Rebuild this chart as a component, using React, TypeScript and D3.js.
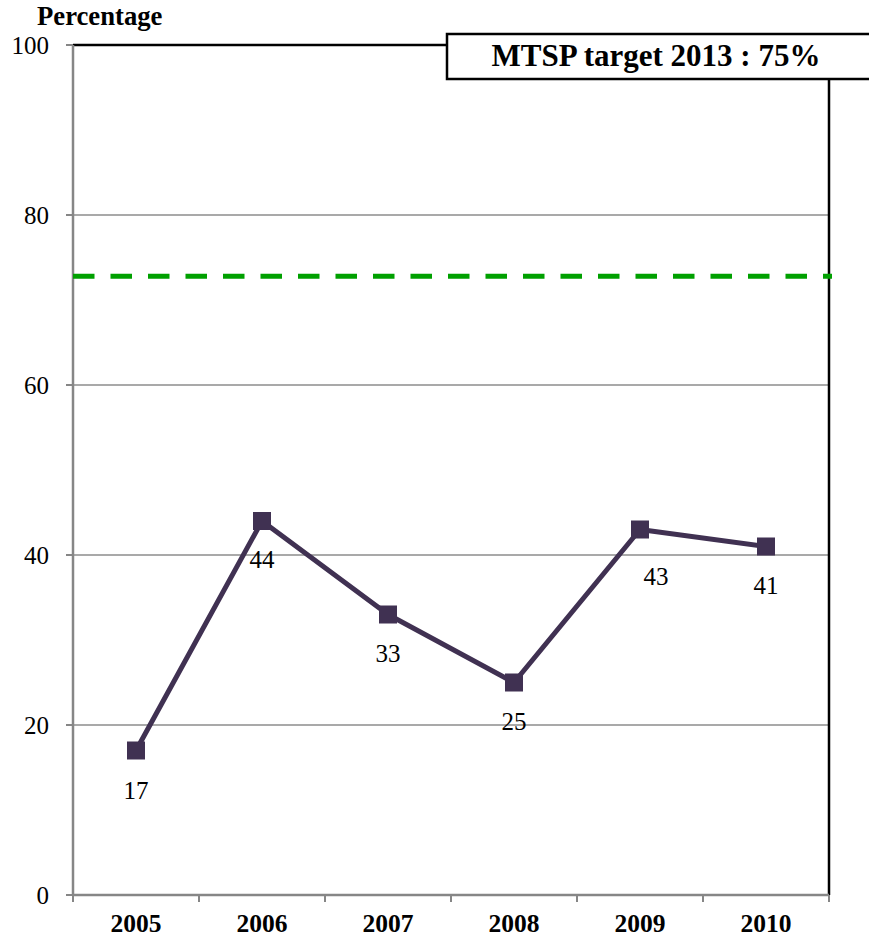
import React from "react";
import * as d3 from "d3";

const years = ["2005", "2006", "2007", "2008", "2009", "2010"];
const values = [17, 44, 33, 25, 43, 41];
const yTicks = [0, 20, 40, 60, 80, 100];
const targetValue = 72.8;
const targetLabel = "MTSP target 2013 : 75%";
const yTitle = "Percentage";
// label nudges (layout only)
const labelDx = [0, 0, 0, 0, 16, 0];
const labelDy = [48, 47, 47, 47, 55, 47];

const W = 869, H = 939;
const M = { left: 73, right: 829, top: 45, bottom: 895 };

export default function App() {
  const x = d3.scaleBand().domain(years).range([M.left, M.right]).padding(0);
  const y = d3.scaleLinear().domain([0, 100]).range([M.bottom, M.top]);
  const cx = (d: string) => (x(d) as number) + x.bandwidth() / 2;
  const line = d3.line<number>().x((_, i) => cx(years[i])).y((v) => y(v));
  const boundaries = [...years.map((d) => x(d) as number), M.right];
  const lineColor = "#403152";
  return (
    <svg width={W} height={H} style={{ position: "absolute", left: 0, top: 0, fontFamily: "'Liberation Serif', 'Times New Roman', serif" }}>
      <rect x={0} y={0} width={W} height={H} fill="#fff" />
      {yTicks.filter((t) => t > 0 && t < 100).map((t) => (
        <line key={t} x1={M.left} x2={M.right} y1={y(t)} y2={y(t)} stroke="#8c8c8c" strokeWidth={1.5} />
      ))}
      {/* plot border top & right */}
      <line x1={M.left} x2={M.right} y1={y(100)} y2={y(100)} stroke="#000" strokeWidth={2.5} />
      <line x1={M.right} x2={M.right} y1={y(100)} y2={M.bottom} stroke="#000" strokeWidth={2.5} />
      {/* axes */}
      <line x1={M.left} x2={M.left} y1={M.top} y2={M.bottom + 1} stroke="#868686" strokeWidth={2.5} />
      <line x1={M.left} x2={M.right} y1={M.bottom} y2={M.bottom} stroke="#868686" strokeWidth={2.5} />
      {yTicks.map((t) => (
        <g key={t}>
          <line x1={M.left - 7} x2={M.left} y1={y(t)} y2={y(t)} stroke="#868686" strokeWidth={2} />
          <text x={49} y={y(t)} dy="0.35em" textAnchor="end" fontSize={25}>{t}</text>
        </g>
      ))}
      {boundaries.map((b, i) => (
        <line key={i} x1={b} x2={b} y1={M.bottom} y2={M.bottom + 7} stroke="#868686" strokeWidth={2} />
      ))}
      {years.map((d) => (
        <text key={d} x={cx(d)} y={932} textAnchor="middle" fontSize={25.5} fontWeight="bold">{d}</text>
      ))}
      <text x={37} y={25} fontSize={26.7} fontWeight="bold">{yTitle}</text>
      {/* target line */}
      <line x1={M.left} x2={832} y1={y(targetValue)} y2={y(targetValue)} stroke="#00a000" strokeWidth={5} strokeDasharray="21.5 16" />
      {/* legend box */}
      <rect x={447} y={34} width={440} height={45} fill="#fff" stroke="#000" strokeWidth={2.5} />
      <text x={656} y={66} textAnchor="middle" fontSize={31} fontWeight="bold">{targetLabel}</text>
      {/* data line */}
      <path d={line(values) || ""} fill="none" stroke={lineColor} strokeWidth={5} strokeLinejoin="round" />
      {values.map((v, i) => (
        <rect key={i} x={cx(years[i]) - 9} y={y(v) - 9} width={18} height={18} fill={lineColor} />
      ))}
      {values.map((v, i) => (
        <text key={i} x={cx(years[i]) + labelDx[i]} y={y(v) + labelDy[i]} textAnchor="middle" fontSize={25}>{v}</text>
      ))}
    </svg>
  );
}
